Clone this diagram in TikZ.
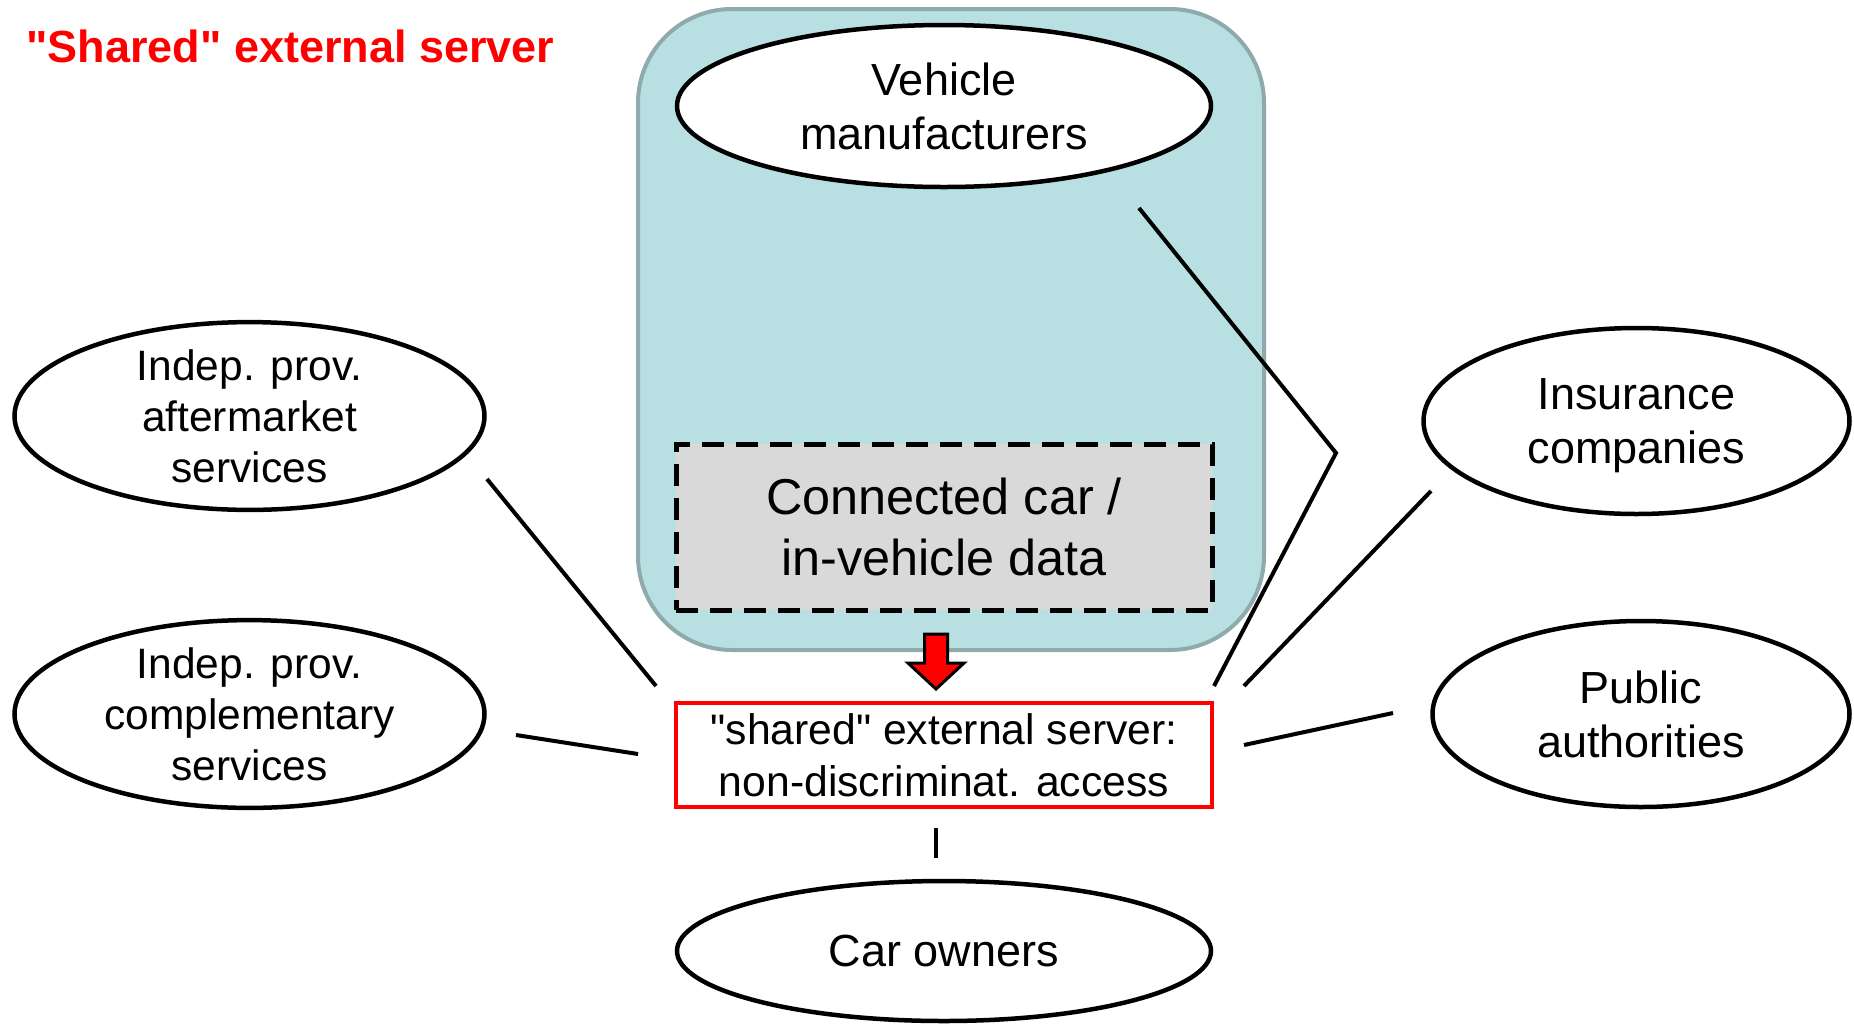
\documentclass[tikz,border=0pt]{standalone}
\usepackage{fontspec}
\setmainfont{Liberation Sans}[Ligatures=TeXOff]
\usetikzlibrary{shapes.geometric}
\definecolor{teal1}{RGB}{184,223,226}
\definecolor{teal2}{RGB}{143,170,172}
\definecolor{grayfill}{RGB}{217,217,217}
\tikzset{
  party/.style={ellipse, draw=black, line width=2.25pt, fill=white, inner sep=0pt, align=center,
                text depth=0pt, font=\fontsize{22.5}{27.2}\selectfont},
  partysmall/.style={party, font=\fontsize{21.25}{25.5}\selectfont},
  link/.style={draw=black, line width=2pt},
}
\begin{document}
\begin{tikzpicture}[x=0.5pt,y=-0.5pt]
\useasboundingbox (0,0) rectangle (1854,1024);
% title
\node[anchor=base west, inner sep=0pt, text=red, font=\fontsize{22.5}{27}\selectfont\bfseries] (title) at (26,62) {"Shared" external server};
% container
\draw[fill=teal1, draw=teal2, line width=2pt, rounded corners=47pt] (638,9) rectangle (1264,650);
\node[party, minimum width=267pt, minimum height=81pt] (vm) at (944,106) {Vehicle\\manufacturers};
\node[draw=black, fill=grayfill, line width=2.5pt, dash pattern=on 11pt off 6pt, minimum width=268pt, minimum height=83pt, inner sep=0pt, align=center, font=\fontsize{25.2}{30.5}\selectfont] (data) at (944,527) {Connected car /\\in-vehicle data};
% server
\node[draw=red, line width=1.9pt, fill=white, minimum width=268pt, minimum height=52pt, inner sep=0pt, align=center, font=\fontsize{21.35}{26}\selectfont] (srv) at (944,755) {"shared" external server:\\non-discriminat. access};
% parties
\node[partysmall, minimum width=235pt, minimum height=93pt] (aft) at (249.5,416) {Indep. prov.\\aftermarket\\services};
\node[partysmall, minimum width=235pt, minimum height=93pt] (comp) at (249.5,714) {Indep. prov.\\complementary\\services};
\node[party, minimum width=213pt, minimum height=93pt] (ins) at (1636.5,421) {Insurance\\companies};
\node[party, minimum width=208.5pt, minimum height=93pt] (pub) at (1641,714) {Public\\authorities};
\node[party, minimum width=267pt, minimum height=70pt] (own) at (944,951) {Car owners};
% red block arrow
\draw[fill=red, draw=black, line width=1.5pt, line join=miter]
  (924.5,634) -- (947.5,634) -- (947.5,663) -- (964,663) -- (936,689) -- (908,663) -- (924.5,663) -- cycle;
% connector end points
\coordinate (vmA) at (1139,208);
\coordinate (vmK) at (1336,453);
\coordinate (vmB) at (1214,686);
\coordinate (insA) at (1431,491);
\coordinate (insB) at (1244,686);
\coordinate (pubA) at (1393,713);
\coordinate (pubB) at (1244,745);
\coordinate (aftA) at (487,479);
\coordinate (aftB) at (656,686);
\coordinate (compA) at (516,735);
\coordinate (compB) at (638,754);
\coordinate (ownA) at (936,828);
\coordinate (ownB) at (936,858);
\draw[link] (vmA) -- (vmK) -- (vmB);
\draw[link] (insA) -- (insB);
\draw[link] (pubA) -- (pubB);
\draw[link] (aftA) -- (aftB);
\draw[link] (compA) -- (compB);
\draw[link] (ownA) -- (ownB);
\end{tikzpicture}
\end{document}
